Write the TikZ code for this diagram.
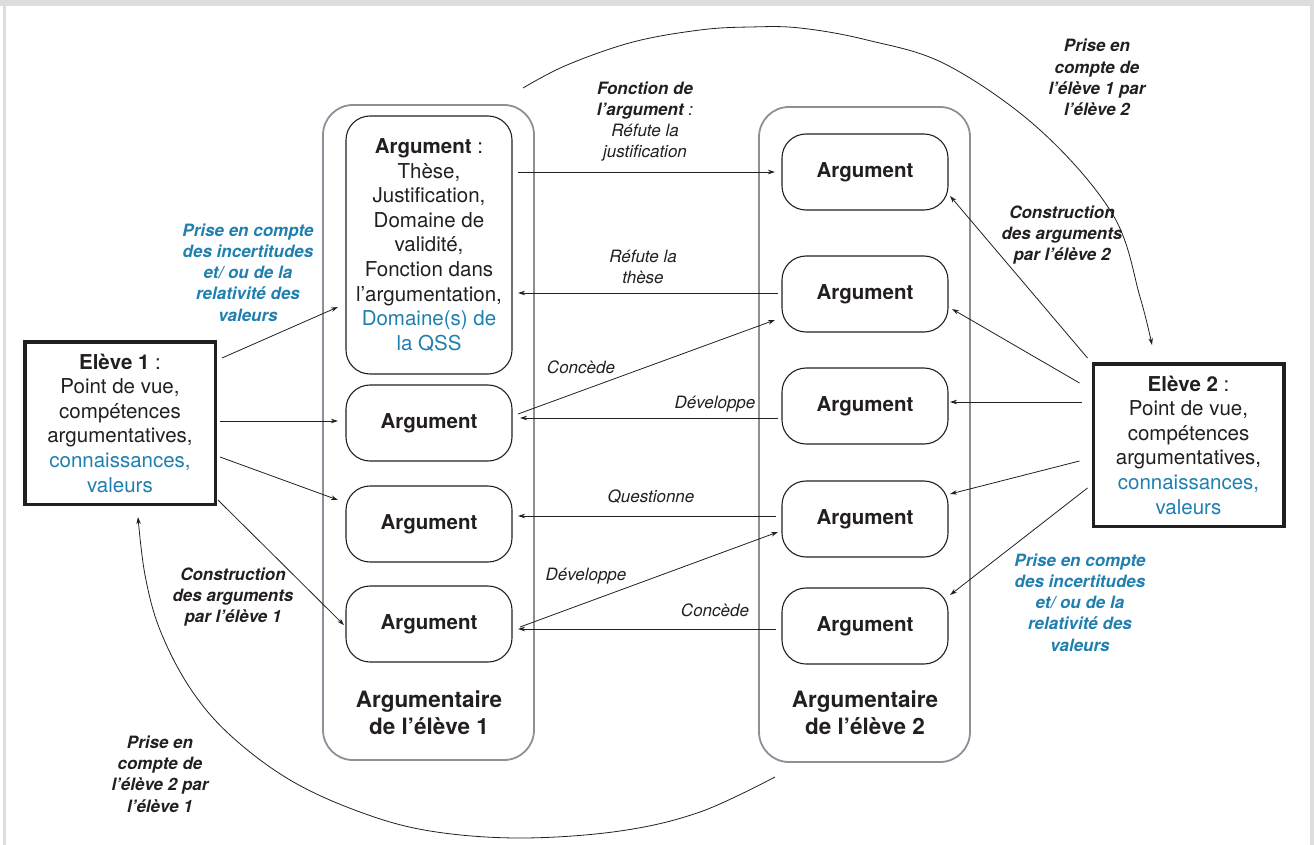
\documentclass[tikz,border=0pt]{standalone}
\usepackage{fontspec}
\setmainfont{TeX Gyre Heros}
\usetikzlibrary{arrows.meta}
\definecolor{ink}{HTML}{231F20}
\definecolor{blu}{HTML}{1F7FAE}
\definecolor{contgray}{HTML}{8B9199}
\definecolor{framegray}{HTML}{DDDDDD}
\tikzset{
  argbox/.style={draw=ink, line width=1.1pt, rounded corners=24pt, minimum width=166pt, minimum height=76pt,
    font=\bfseries\fontsize{20.5}{24.6}\selectfont, align=center, inner sep=0pt, text=ink},
  container/.style={draw=contgray, line width=1.8pt, rounded corners=30pt, minimum width=211pt, minimum height=655pt, inner sep=0pt},
  eleve/.style={draw=ink, line width=3.5pt, minimum width=190.5pt, minimum height=162.5pt, align=center,
    font=\fontsize{20.5}{24.6}\selectfont, inner sep=0pt, text=ink},
  titlab/.style={font=\bfseries\fontsize{22.5}{27}\selectfont, align=center, inner sep=0pt, text=ink},
  lab/.style={font=\itshape\fontsize{17}{21}\selectfont, align=center, inner sep=0pt, text=ink},
  blab/.style={font=\bfseries\itshape\fontsize{17}{21.2}\selectfont, align=center, inner sep=0pt, text=ink},
  bluelab/.style={blab, text=blu},
  arr/.style={-{Stealth[length=7pt,width=4.5pt]}, line width=0.8pt, draw=ink},
}
\begin{document}
\begin{tikzpicture}[x=1pt,y=-1pt]
\useasboundingbox (0,0) rectangle (1314,845);
% frame
\fill[framegray] (0,0) rectangle (1314,6);
\fill[framegray] (3,0) rectangle (6,845);
\fill[framegray] (1310,0) rectangle (1314,845);

% containers
\node[container] (c1) at (428.5,432.5) {};
\node[container] (c2) at (864.5,434.5) {};
\node[titlab] (t1) at (429,713) {Argumentaire\\de l’élève 1};
\node[titlab] (t2) at (865,713) {Argumentaire\\de l’élève 2};

% left arguments
\node[argbox, minimum height=258pt, font=\fontsize{20.5}{24.6}\selectfont] (b1) at (429,245)
  {\textbf{Argument} :\\Thèse,\\Justification,\\Domaine de\\validité,\\Fonction dans\\l’argumentation,\\{\color{blu}Domaine(s) de}\\{\color{blu}la QSS}};
\node[argbox] (b2) at (429,423) {Argument};
\node[argbox] (b3) at (429,524) {Argument};
\node[argbox] (b4) at (429,624) {Argument};

% right arguments
\node[argbox] (rA) at (865,172) {Argument};
\node[argbox] (rB) at (865,294) {Argument};
\node[argbox] (rC) at (865,406) {Argument};
\node[argbox] (rD) at (865,519) {Argument};
\node[argbox] (rE) at (865,626) {Argument};

% students
\node[eleve] (e1) at (120,423)
  {\textbf{Elève 1} :\\Point de vue,\\compétences\\argumentatives,\\{\color{blu}connaissances,}\\{\color{blu}valeurs}};
\node[eleve] (e2) at (1188.5,445)
  {\textbf{Elève 2} :\\Point de vue,\\compétences\\argumentatives,\\{\color{blu}connaissances,}\\{\color{blu}valeurs}};

% arrows from eleve 1
\draw[arr] ([shift={(5,-65)}]e1.east) -- ([shift={(-7.5,62)}]b1.west);
\draw[arr] ([shift={(3,-2)}]e1.east) -- ([shift={(-7.5,-2)}]b2.west);
\draw[arr] ([shift={(3,34)}]e1.east) -- ([shift={(-7.5,-24)}]b3.west);
\draw[arr] ([shift={(1,-6)}]e1.south east) -- ([shift={(-1.5,1)}]b4.west);

% arrows from eleve 2
\draw[arr] ([shift={(-4,-87)}]e2.west) -- ([shift={(1.5,24)}]rA.east);
\draw[arr] ([shift={(-12,-62)}]e2.west) -- ([shift={(3.5,15)}]rB.east);
\draw[arr] ([shift={(-10,-43)}]e2.west) -- ([shift={(1.5,-4)}]rC.east);
\draw[arr] ([shift={(-12,16)}]e2.west) -- ([shift={(1.5,-25)}]rD.east);
\draw[arr] ([shift={(-4,43)}]e2.west) -- ([shift={(1.5,-31)}]rE.east);

% middle arrows
\draw[arr] ([shift={(5.5,-73)}]b1.east) -- ([shift={(-6.5,0)}]rA.west);
\draw[arr] ([shift={(-3.5,-1)}]rB.west) -- ([shift={(5.5,48)}]b1.east);
\draw[arr] ([shift={(5.5,-9)}]b2.east) -- ([shift={(-6.5,26)}]rB.west);
\draw[arr] ([shift={(-3.5,12)}]rC.west) -- ([shift={(7.5,-5)}]b2.east);
\draw[arr] ([shift={(-5.5,-3)}]rD.west) -- ([shift={(5.5,-8)}]b3.east);
\draw[arr] ([shift={(7.5,3)}]b4.east) -- ([shift={(-3.5,13)}]rD.west);
\draw[arr] ([shift={(-5.5,3)}]rE.west) -- ([shift={(5.5,5)}]b4.east);

% labels
\node[lab] (lf) at (645,121.5) {\textbf{Fonction de}\\\textbf{l’argument} :\\Réfute la\\justification};
\node[lab] (lr) at (643,266.5) {Réfute la\\thèse};
\node[lab] (lc1) at (581,367) {Concède};
\node[lab] (ld1) at (715,404) {Développe};
\node[lab] (lq) at (651,497) {Questionne};
\node[lab] (ld2) at (586,576) {Développe};
\node[lab] (lc2) at (715,610) {Concède};

\node[bluelab] (p1) at (248,272.5) {Prise en compte\\des incertitudes\\et/ ou de la\\relativité des\\valeurs};
\node[bluelab] (p2) at (1080,602.5) {Prise en compte\\des incertitudes\\et/ ou de la\\relativité des\\valeurs};
\node[blab] (q1) at (1097,77.5) {Prise en\\compte de\\l’élève 1 par\\l’élève 2};
\node[blab] (k2) at (1062,235) {Construction\\des arguments\\par l’élève 2};
\node[blab] (k1) at (233,597) {Construction\\des arguments\\par l’élève 1};
\node[blab] (q2) at (160,774) {Prise en\\compte de\\l’élève 2 par\\l’élève 1};

% arcs
\coordinate (topstart) at (523,88);
\coordinate (botstart) at (775,777);
\draw[arr] plot[smooth, tension=0.6] coordinates {(topstart) (567,65) (633,42) (700,30) (750,27) (800,28) (867,40) (947,65) (1040,130) (1113,215) (1140,297) ([shift={(-36.5,-17)}]e2.north)};
\draw[arr] plot[smooth, tension=0.6] coordinates {(botstart) (700,812) (620,831) (520,838) (430,831) (360,812) (290,780) (230,735) (190,688) (160,630) (145,575) ([shift={(18,11)}]e1.south)};
\end{tikzpicture}
\end{document}
